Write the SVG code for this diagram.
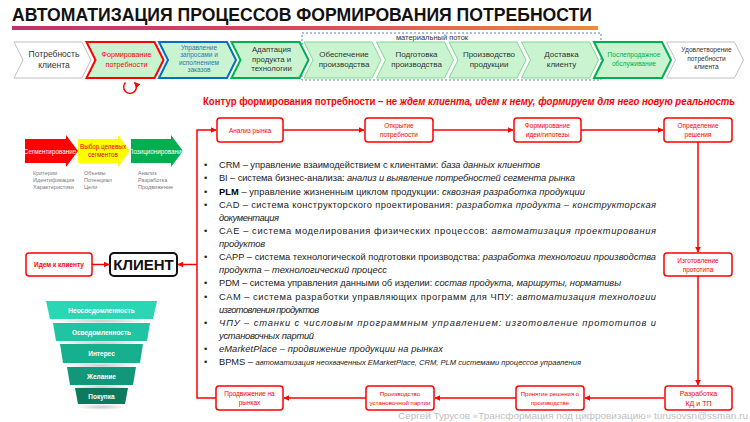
<svg xmlns="http://www.w3.org/2000/svg" width="750" height="422" viewBox="0 0 750 422">
<defs>
<style>
text{font-family:"Liberation Sans",Arial,sans-serif;}
.chv{fill:#c9f4cf;stroke:#7fd68f;stroke-width:1;}
.chw{fill:#fff;stroke:#bfbfbf;stroke-width:1;}
.ct{font-size:8px;fill:#333;text-anchor:middle;}
.rb{fill:#fff;stroke:#ff0000;stroke-width:1.5;}
.rt{font-size:6.5px;fill:#ff0000;text-anchor:middle;}
.conn{fill:none;stroke:#ff0000;stroke-width:1.5;}
.b{font-size:9.3px;fill:#222;}
.i{font-style:italic;}
.g{font-size:5.5px;fill:#7a7a7a;}
.fn{font-size:6.5px;font-weight:bold;fill:#fff;text-anchor:middle;}
</style>
<linearGradient id="bar" x1="0" y1="0" x2="1" y2="0">
<stop offset="0" stop-color="#c2306c"/>
<stop offset="0.5" stop-color="#d84a5c"/>
<stop offset="1" stop-color="#ec8a3c"/>
</linearGradient>
<radialGradient id="sh">
<stop offset="0" stop-color="#888" stop-opacity="0.45"/>
<stop offset="1" stop-color="#888" stop-opacity="0"/>
</radialGradient>
<marker id="ah" viewBox="0 0 10 10" refX="9" refY="5" markerWidth="6" markerHeight="6" markerUnits="userSpaceOnUse" orient="auto">
<path d="M0,0 L10,5 L0,10 z" fill="#ff0000"/>
</marker>
</defs>
<rect width="750" height="422" fill="#fff"/>

<g id="title">
<text x="12" y="21" font-size="19" font-weight="bold" fill="#111" textLength="580" lengthAdjust="spacingAndGlyphs">АВТОМАТИЗАЦИЯ ПРОЦЕССОВ ФОРМИРОВАНИЯ ПОТРЕБНОСТИ</text>
<rect x="12" y="26" width="586" height="4" fill="url(#bar)"/>
</g>

<g id="material-flow">
<rect x="302" y="33" width="299" height="47" fill="none" stroke="#5b7fb5" stroke-width="1" stroke-dasharray="2 2"/>
<text x="432" y="39.5" font-size="7.5" fill="#333" text-anchor="middle">материальный поток</text>
</g>

<g id="chevrons">
<g id="ch0"><polygon class="chw" points="14,42 82,42 91,60 82,78 14,78 23,60"/>
<text class="ct" font-size="8.5" style="font-size:8.5px"><tspan x="54" y="57">Потребность</tspan><tspan x="54" y="67.5">клиента</tspan></text></g>
<g id="ch4"><polygon class="chv" points="304,42 372,42 381,60 372,78 304,78 313,60"/>
<text class="ct"><tspan x="344" y="57">Обеспечение</tspan><tspan x="344" y="67">производства</tspan></text></g>
<g id="ch5"><polygon class="chv" points="376.5,42 444.5,42 453.5,60 444.5,78 376.5,78 385.5,60"/>
<text class="ct"><tspan x="416.5" y="57">Подготовка</tspan><tspan x="416.5" y="67">производства</tspan></text></g>
<g id="ch6"><polygon class="chv" points="449,42 517,42 526,60 517,78 449,78 458,60"/>
<text class="ct"><tspan x="489" y="57">Производство</tspan><tspan x="489" y="67">продукции</tspan></text></g>
<g id="ch7"><polygon class="chv" points="521.5,42 589.5,42 598.5,60 589.5,78 521.5,78 530.5,60"/>
<text class="ct"><tspan x="561.5" y="57">Доставка</tspan><tspan x="561.5" y="67">клиенту</tspan></text></g>
<g id="ch9"><polygon class="chw" points="666.5,42 734.5,42 743.5,60 734.5,78 666.5,78 675.5,60"/>
<text class="ct" style="font-size:6.6px"><tspan x="706.5" y="52">Удовлетворение</tspan><tspan x="706.5" y="60.5">потребности</tspan><tspan x="706.5" y="69">клиента</tspan></text></g>
<g id="ch1"><polygon class="chv" style="stroke:#ff0000;stroke-width:2" points="86.5,42 154.5,42 163.5,60 154.5,78 86.5,78 95.5,60"/>
<text class="ct" style="fill:#ff0000;font-size:7.2px"><tspan x="126.5" y="57">Формирование</tspan><tspan x="126.5" y="66.5">потребности</tspan></text></g>
<g id="ch2"><polygon class="chv" style="stroke:#0070c0;stroke-width:2" points="159,42 227,42 236,60 227,78 159,78 168,60"/>
<text class="ct" style="fill:#2e75b6;font-size:6.5px"><tspan x="199" y="49.5">Управление</tspan><tspan x="199" y="57">запросами и</tspan><tspan x="199" y="64.5">исполнением</tspan><tspan x="199" y="72">заказов</tspan></text></g>
<g id="ch3"><polygon class="chv" style="stroke:#00b050;stroke-width:2" points="231.5,42 299.5,42 308.5,60 299.5,78 231.5,78 240.5,60"/>
<text class="ct" style="font-size:7.8px"><tspan x="271.5" y="52">Адаптация</tspan><tspan x="271.5" y="61.5">продукта и</tspan><tspan x="271.5" y="71">технологии</tspan></text></g>
<g id="ch8"><polygon class="chv" style="stroke:#00b050;stroke-width:2" points="594,42 662,42 671,60 662,78 594,78 603,60"/>
<text class="ct" style="fill:#00b050;font-size:6.6px"><tspan x="634" y="57">Послепродажное</tspan><tspan x="634" y="65.5">обслуживание</tspan></text></g>
</g>

<g id="loop-arrow">
<path d="M125.5,82.5 A6.4,6.4 0 1 0 134.5,82.5" fill="none" stroke="#ff0000" stroke-width="1.5" marker-end="url(#ah)"/>
</g>

<g id="heading">
<text x="203" y="104.5" font-size="10" font-weight="bold" fill="#ff0000" textLength="532" lengthAdjust="spacingAndGlyphs">Контур формирования потребности – не <tspan class="i">ждем клиента, идем к нему, формируем для него новую реальность</tspan></text>
</g>

<g id="connectors">
<path class="conn" d="M216,398 H197 V130 H216" marker-end="url(#ah)"/>
<path class="conn" d="M283,130 H364" marker-end="url(#ah)"/>
<path class="conn" d="M433,130 H513" marker-end="url(#ah)"/>
<path class="conn" d="M581,130 H663" marker-end="url(#ah)"/>
<path class="conn" d="M698,142 V252" marker-end="url(#ah)"/>
<path class="conn" d="M698,276 V385" marker-end="url(#ah)"/>
<path class="conn" d="M664,398 H585" marker-end="url(#ah)"/>
<path class="conn" d="M516,398 H435" marker-end="url(#ah)"/>
<path class="conn" d="M366,398 H284" marker-end="url(#ah)"/>
<path class="conn" d="M197,264.5 H178" marker-end="url(#ah)"/>
<path class="conn" d="M92,264.5 H109" marker-end="url(#ah)"/>
</g>

<g id="n-analiz"><rect class="rb" x="217" y="118" width="66" height="24" rx="3"/><text class="rt" x="250" y="132.5">Анализ рынка</text></g>
<g id="n-otkrytie"><rect class="rb" x="365" y="118" width="68" height="24" rx="3"/><text class="rt"><tspan x="399" y="128">Открытие</tspan><tspan x="399" y="137">потребности</tspan></text></g>
<g id="n-idea"><rect class="rb" x="514" y="118" width="67" height="24" rx="3"/><text class="rt"><tspan x="547.5" y="128">Формирование</tspan><tspan x="547.5" y="137">идеи/гипотезы</tspan></text></g>
<g id="n-reshenie"><rect class="rb" x="664" y="118" width="68" height="24" rx="3"/><text class="rt"><tspan x="698" y="128">Определение</tspan><tspan x="698" y="137">решения</tspan></text></g>
<g id="n-prototip"><rect class="rb" x="664" y="253" width="68" height="23" rx="3"/><text class="rt"><tspan x="698" y="262.5">Изготовление</tspan><tspan x="698" y="271.5">прототипа</tspan></text></g>
<g id="n-kd"><rect class="rb" x="665" y="386" width="67" height="24" rx="3"/><text class="rt" font-size="7" style="font-size:7px"><tspan x="698.5" y="396">Разработка</tspan><tspan x="698.5" y="405.5">КД и ТП</tspan></text></g>
<g id="n-prinyatie"><rect class="rb" x="516" y="386" width="68" height="24" rx="3"/><text class="rt" style="font-size:6px"><tspan x="550" y="396">Принятие решения о</tspan><tspan x="550" y="405">производстве</tspan></text></g>
<g id="n-partiya"><rect class="rb" x="366" y="386" width="68" height="24" rx="3"/><text class="rt" style="font-size:6.2px"><tspan x="400" y="396">Производство</tspan><tspan x="400" y="405">установочной партии</tspan></text></g>
<g id="n-prodvizhenie"><rect class="rb" x="216" y="386" width="67" height="24" rx="3"/><text class="rt"><tspan x="249.5" y="396">Продвижение  на</tspan><tspan x="249.5" y="405">рынках</tspan></text></g>

<g id="n-idem"><rect class="rb" x="26" y="253" width="66" height="23" rx="3"/><text class="rt" font-weight="bold" x="59" y="267">Идем к клиенту</text></g>
<g id="n-klient"><rect x="110" y="253" width="67" height="23" rx="4" fill="#fff" stroke="#111" stroke-width="2"/><text x="143.5" y="270" font-size="15" font-weight="bold" fill="#111" text-anchor="middle">КЛИЕНТ</text></g>

<g id="segment-arrows">
<polygon points="25,139 66,139 66,135 78,151 66,167 66,163 25,163" fill="#ff0000"/>
<text x="50" y="153.5" font-size="6.3" fill="#fff" text-anchor="middle">Сегментирование</text>
<polygon points="78,139 118,139 118,135 130,151 118,167 118,163 78,163" fill="#ffff00"/>
<text font-size="6.3" fill="#e00000" text-anchor="middle"><tspan x="103" y="149">Выбор целевых</tspan><tspan x="103" y="157">сегментов</tspan></text>
<polygon points="131,139 171,139 171,135 183,151 171,167 171,163 131,163" fill="#00b050"/>
<text x="157" y="153.5" font-size="6.3" fill="#fff" text-anchor="middle">Позиционирование</text>
<text class="g"><tspan x="33" y="175">Критерии</tspan><tspan x="33" y="182">Идентификация</tspan><tspan x="33" y="189">Характеристики</tspan></text>
<text class="g"><tspan x="84" y="175">Объемы</tspan><tspan x="84" y="182">Потенциал</tspan><tspan x="84" y="189">Цели</tspan></text>
<text class="g"><tspan x="138" y="175">Анализ</tspan><tspan x="138" y="182">Разработка</tspan><tspan x="138" y="189">Продвижение</tspan></text>
</g>

<g id="funnel">
<ellipse cx="101.5" cy="321" rx="50" ry="3" fill="url(#sh)"/>
<ellipse cx="101.5" cy="343" rx="44" ry="3" fill="url(#sh)"/>
<ellipse cx="101.5" cy="365.5" rx="38" ry="3" fill="url(#sh)"/>
<ellipse cx="101.5" cy="387" rx="32" ry="3" fill="url(#sh)"/>
<ellipse cx="101.5" cy="407" rx="25" ry="3" fill="url(#sh)"/>
<polygon points="46,301 157,301 153,319 50,319" fill="#2ad6b4"/>
<text class="fn" x="101.5" y="312.5">Неосведомленность</text>
<polygon points="53,323 150,323 147,341 56,341" fill="#20c4a2"/>
<text class="fn" x="101.5" y="334.5">Осведомленность</text>
<polygon points="60,344 143,344 140,363 63,363" fill="#17b08e"/>
<text class="fn" x="101.5" y="356">Интерес</text>
<polygon points="67,367 136,367 133,385 70,385" fill="#12977a"/>
<text class="fn" x="101.5" y="378.5">Желание</text>
<polygon points="75,388 128,388 125,404 78,404" fill="#0d7a60"/>
<text class="fn" x="101.5" y="398.5">Покупка</text>
</g>

<g id="systems-list">
<g class="b">
<text x="204" y="168.2">•</text><text x="204" y="181.3">•</text><text x="204" y="194.5">•</text><text x="204" y="207.6">•</text><text x="204" y="233.9">•</text><text x="204" y="260.1">•</text><text x="204" y="286.4">•</text><text x="204" y="299.5">•</text><text x="204" y="325.8">•</text><text x="204" y="352">•</text><text x="204" y="365.2">•</text>
</g>
<text class="b" x="219" y="168.2" textLength="321">CRM – управление взаимодействием с клиентами: <tspan class="i">база данных клиентов</tspan></text>
<text class="b" x="219" y="181.3" textLength="356">BI – система бизнес-анализа: <tspan class="i">анализ и выявление потребностей сегмента рынка</tspan></text>
<text class="b" x="219" y="194.5" textLength="366"><tspan font-weight="bold" fill="#000">PLM</tspan> – управление жизненным циклом продукции: <tspan class="i">сквозная разработка продукции</tspan></text>
<text class="b" x="219" y="207.6" textLength="437">CAD – система конструкторского проектирования: <tspan class="i">разработка продукта – конструкторская</tspan></text>
<text class="b i" x="219" y="220.7" textLength="60">документация</text>
<text class="b" x="219" y="233.9" textLength="437">CAE – система моделирования физических процессов: <tspan class="i">автоматизация проектирования</tspan></text>
<text class="b i" x="219" y="247" textLength="46">продуктов</text>
<text class="b" x="219" y="260.1" textLength="437">CAPP – система технологической подготовки производства: <tspan class="i">разработка технологии производства</tspan></text>
<text class="b i" x="219" y="273.2" textLength="168">продукта – технологический процесс</text>
<text class="b" x="219" y="286.4" textLength="402">PDM – система управления данными об изделии: <tspan class="i">состав продукта, маршруты, нормативы</tspan></text>
<text class="b" x="219" y="299.5" textLength="437">CAM – система разработки управляющих программ для ЧПУ: <tspan class="i">автоматизация технологии</tspan></text>
<text class="b i" x="219" y="312.6" textLength="100">изготовления продуктов</text>
<text class="b i" x="219" y="325.8" textLength="437">ЧПУ – станки с числовым программным управлением: изготовление прототипов и</text>
<text class="b i" x="219" y="338.9" textLength="95">установочных партий</text>
<text class="b i" x="219" y="352" textLength="224">eMarketPlace – продвижение продукции на рынках</text>
<text class="b" x="219" y="365.2" textLength="362">BPMS – <tspan class="i" font-size="7.6">автоматизация неохваченных EMarketPlace, CRM, PLM системами процессов управления</tspan></text>
</g>

<g id="signature">
<text x="398" y="419" font-size="9.5" fill="#c0c0c0" textLength="350" lengthAdjust="spacingAndGlyphs">Сергей Турусов «Трансформация под цифровизацию» turusovsn@ssman.ru</text>
</g>
</svg>
